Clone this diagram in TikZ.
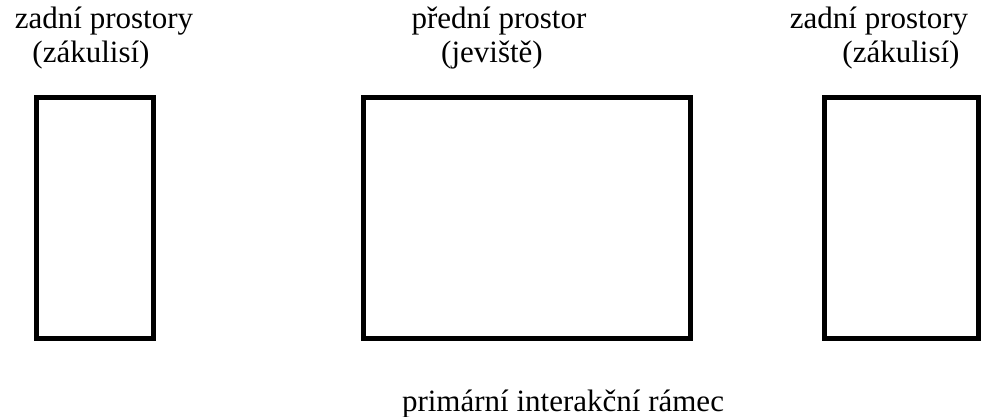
\documentclass[tikz,border=0pt]{standalone}
\usepackage{fontspec}
\setmainfont{Liberation Serif}
\tikzset{
  room/.style={line width=2.5pt},
  caption/.style={anchor=base,inner sep=0pt,font=\fontsize{15.5}{18}\selectfont}
}
\begin{document}
\begin{tikzpicture}[x=0.5pt,y=-0.5pt]
  \useasboundingbox (0,0) rectangle (981,417);
  \draw[room] (36.5,97.5) rectangle (153.5,338.5);
  \draw[room] (363.5,97.5) rectangle (690.5,338.5);
  \draw[room] (824.5,97.5) rectangle (978.5,338.5);
  \node[caption] (lback) at (104,29) {zadní prostory};
  \node[caption] (lbacksub) at (91,63) {(zákulisí)};
  \node[caption] (front) at (499,29) {přední prostor};
  \node[caption] (frontsub) at (492,63) {(jeviště)};
  \node[caption] (rback) at (879,29) {zadní prostory};
  \node[caption] (rbacksub) at (901,63) {(zákulisí)};
  \node[caption] (frame) at (563,411) {primární interakční rámec};
\end{tikzpicture}
\end{document}
